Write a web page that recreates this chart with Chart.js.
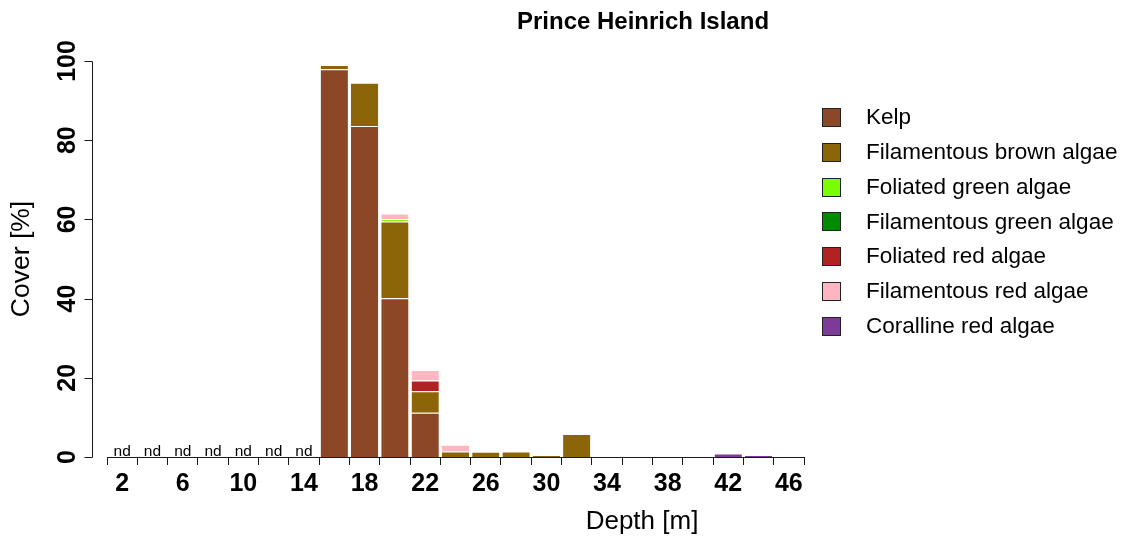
<!DOCTYPE html>
<html>
<head>
<meta charset="utf-8">
<script src="https://cdn.jsdelivr.net/npm/chart.js@4.4.1/dist/chart.umd.min.js"></script>
<style>
  html, body { margin: 0; padding: 0; background: #ffffff; }
  #wrap { width: 1124px; height: 537px; }
</style>
</head>
<body>
<div id="wrap"><canvas id="cover" width="1124" height="537"></canvas></div>
<script>
// Sampling depths (m); null = depth not surveyed ("nd")
const depths = [2, 4, 6, 8, 10, 12, 14, 16, 18, 20, 22, 24, 26, 28, 30, 32, 34, 36, 38, 40, 42, 44, 46];

// Percent cover per algal group at each depth
const kelp            = [null, null, null, null, null, null, null, 97.9, 83.6, 40.1, 11.2, 0,   0,   0,   0,   0,   0, 0, 0, 0, 0,   0,   0];
const filBrown        = [null, null, null, null, null, null, null, 1.1,  10.9, 19.4, 5.4,  1.4, 1.3, 1.4, 0.5, 5.8, 0, 0, 0, 0, 0,   0,   0];
const folGreen        = [null, null, null, null, null, null, null, 0,    0,    0.6,  0,    0,   0,   0,   0,   0,   0, 0, 0, 0, 0,   0,   0];
const filGreen        = [null, null, null, null, null, null, null, 0,    0,    0,    0,    0,   0,   0,   0,   0,   0, 0, 0, 0, 0,   0,   0];
const folRed          = [null, null, null, null, null, null, null, 0,    0,    0,    2.7,  0,   0,   0,   0,   0,   0, 0, 0, 0, 0,   0,   0];
const filRed          = [null, null, null, null, null, null, null, 0,    0,    1.4,  2.7,  1.7, 0,   0,   0,   0,   0, 0, 0, 0, 0,   0,   0];
const coralline       = [null, null, null, null, null, null, null, 0,    0,    0,    0,    0,   0,   0,   0,   0,   0, 0, 0, 0, 0.9, 0.5, 0];

const groupNames  = ['Kelp', 'Filamentous brown algae', 'Foliated green algae', 'Filamentous green algae',
                     'Foliated red algae', 'Filamentous red algae', 'Coralline red algae'];
const groupValues = [kelp, filBrown, folGreen, filGreen, folRed, filRed, coralline];
const groupColors = ['#8B4726', '#8B6508', '#7CFC00', '#008B00', '#B22222', '#FFB6C1', '#7D3A96'];

const yTickStep = 20;
const yMax = 100;

const FONT = '"Liberation Sans", Arial, Helvetica, sans-serif';

// Base-R style decorations: detached left axis, "nd" markers, titles, legend
const baseStyle = {
  id: 'baseStyle',
  afterDraw(chart) {
    const ctx = chart.ctx;
    const xs = chart.scales.x;
    const ys = chart.scales.y;
    const area = chart.chartArea;
    ctx.save();

    // left axis, set off from the bar region
    const ax = Math.round(area.left - 15) + 0.5;
    ctx.strokeStyle = '#1a1a1a';
    ctx.lineWidth = 1;
    ctx.beginPath();
    ctx.moveTo(ax, Math.round(ys.getPixelForValue(0)) + 0.5);
    ctx.lineTo(ax, Math.round(ys.getPixelForValue(yMax)) + 0.5);
    ys.ticks.forEach(t => {
      const py = Math.round(ys.getPixelForValue(t.value)) + 0.5;
      ctx.moveTo(ax, py);
      ctx.lineTo(ax - 8, py);
    });
    ctx.stroke();

    // "nd" above depths without data
    ctx.fillStyle = '#000';
    ctx.font = '15.5px ' + FONT;
    ctx.textAlign = 'center';
    ctx.textBaseline = 'alphabetic';
    depths.forEach((d, i) => {
      if (groupValues.every(v => v[i] === null)) {
        ctx.fillText('nd', xs.getPixelForValue(i), ys.getPixelForValue(0) - 1);
      }
    });

    // main title
    ctx.font = 'bold 24px ' + FONT;
    ctx.textBaseline = 'middle';
    ctx.fillText('Prince Heinrich Island', 643, 22);

    // x axis title
    ctx.font = '26px ' + FONT;
    ctx.fillText('Depth [m]', 642, 522);

    // legend
    ctx.font = '22.5px ' + FONT;
    ctx.textAlign = 'left';
    chart.data.datasets.forEach((ds, i) => {
      const cy = 117 + i * 34.8;
      const top = Math.round(cy - 9) + 0.5;
      ctx.fillStyle = ds.backgroundColor;
      ctx.fillRect(822.5, top, 18, 18);
      ctx.strokeStyle = '#222';
      ctx.strokeRect(822.5, top, 18, 18);
      ctx.fillStyle = '#000';
      ctx.fillText(ds.label, 866, cy + 1);
    });

    ctx.restore();
  }
};

new Chart(document.getElementById('cover'), {
  type: 'bar',
  data: {
    labels: depths.map(String),
    datasets: groupNames.map((name, k) => ({
      label: name,
      data: groupValues[k],
      backgroundColor: groupColors[k],
      borderColor: '#ffffff',
      borderWidth: { top: 1, left: 0, right: 0, bottom: 0 },
      borderSkipped: false,
      barPercentage: 0.9,
      categoryPercentage: 1.0
    }))
  },
  options: {
    responsive: false,
    animation: false,
    devicePixelRatio: 1,
    layout: { padding: { top: 61, right: 320, bottom: 0, left: 0 } },
    plugins: {
      legend: { display: false },
      title: { display: false },
      tooltip: { enabled: false }
    },
    scales: {
      x: {
        stacked: true,
        offset: true,
        afterFit: s => { s.height = 80; },
        border: { display: true, color: '#1a1a1a', width: 1 },
        grid: { display: true, offset: true, drawOnChartArea: false, drawTicks: true, tickLength: 8, color: '#1a1a1a' },
        ticks: {
          autoSkip: false, maxRotation: 0, minRotation: 0, padding: 4,
          color: '#000', font: { family: FONT, size: 25, weight: 'bold' },
          callback: (v, i) => (i % 2 === 0 ? depths[i] : '')
        }
      },
      y: {
        stacked: true,
        min: 0, max: yMax,
        afterFit: s => { s.width = 107; },
        border: { display: false },
        grid: { display: false, drawTicks: false },
        ticks: {
          stepSize: yTickStep, minRotation: 90, maxRotation: 90, crossAlign: 'center', padding: 18,
          color: '#000', font: { family: FONT, size: 25, weight: 'bold' }
        },
        title: {
          display: true, text: 'Cover [%]', color: '#000',
          font: { family: FONT, size: 26.5 }, padding: { top: 6, bottom: 0 }
        }
      }
    }
  },
  plugins: [baseStyle]
});
</script>
</body>
</html>
